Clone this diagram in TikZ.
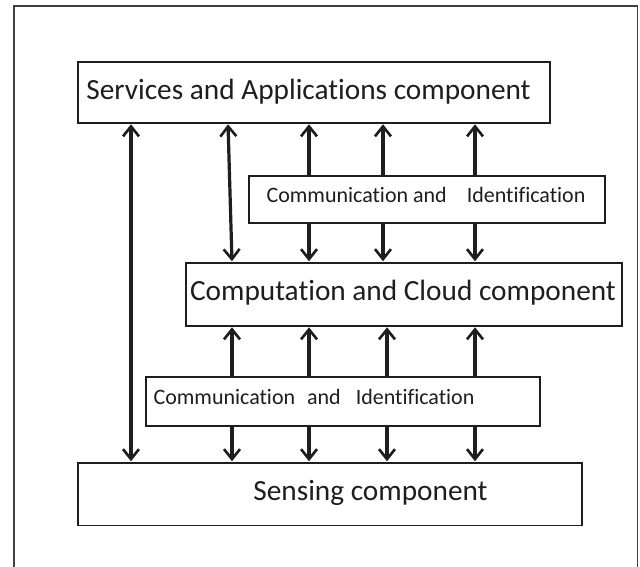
\documentclass[tikz,border=0pt]{standalone}
\usepackage{fontspec}
\setmainfont{Carlito}[Ligatures={NoCommon,NoContextual,NoRequired},RawFeature={-liga;-clig;-calt;-rlig;-dlig}]
\usetikzlibrary{arrows.meta}
\definecolor{ink}{HTML}{1E1E1E}
\newcommand{\nl}{\kern0pt }
\tikzset{
  box/.style={draw=ink, line width=1.5pt, fill=white, rectangle, inner sep=0pt, anchor=north west},
  bigtxt/.style={font=\fontsize{29.3}{29}\selectfont, text=ink, inner sep=0pt, anchor=base},
  smalltxt/.style={font=\fontsize{22}{22}\selectfont, text=ink, inner sep=0pt, anchor=base},
  tip/.tip={Straight Barb[length=10pt,width=16pt,line width=2.6pt]},
  link/.style={draw=ink, line width=3.2pt, tip-tip, shorten <=0.8pt, shorten >=0.8pt},
  uplink/.style={draw=ink, line width=3.2pt, -tip, shorten >=0.8pt},
}
\begin{document}
\begin{tikzpicture}[x=1pt,y=-1pt]
\useasboundingbox (0,0) rectangle (640,566);
\clip (0,0) rectangle (640,566);
\fill[white] (0,0) rectangle (640,566);
\draw[draw=ink!85, line width=1.6pt] (14,6) rectangle (637.5,600);

% boxes
\node[box, minimum width=472pt, minimum height=61pt] (sa) at (77,61) {};
\node[box, minimum width=356pt, minimum height=47pt] (ci1) at (248,175) {};
\node[box, minimum width=436pt, minimum height=63pt] (comp) at (185,262) {};
\node[box, minimum width=394pt, minimum height=49pt] (ci2) at (145,376) {};
\node[box, minimum width=504pt, minimum height=62.5pt] (sens) at (77,462) {};

% texts
\node[bigtxt] (saT) at (308.5,99) {Services and Applicat\nl ions component};
\node[smalltxt] (ci1T) at (426,202) {Communicat\nl ion and\hspace{20pt}Ident\nl if\nl icat\nl ion};
\node[bigtxt] (compT) at (403,300) {Computat\nl ion and Cloud component};
\node[smalltxt] (ci2T) at (314,404) {Communicat\nl ion\hspace{12pt}and\hspace{15pt}Ident\nl if\nl icat\nl ion};
\node[bigtxt] (sensT) at (370.5,500) {Sensing component};

% long arrows
\draw[link] (131,0 |- sa.south) -- (131,0 |- sens.north);
\draw[link] (228,0 |- sa.south) -- (232,0 |- comp.north);

% between SA and CI1 (up), CI1 and Comp (down)
\foreach \xx in {309,383,475}{
  \draw[uplink] (\xx,0 |- ci1.north) -- (\xx,0 |- sa.south);
  \draw[uplink] (\xx,0 |- ci1.south) -- (\xx,0 |- comp.north);
}
% between Comp and CI2 (up), CI2 and Sensing (down)
\foreach \xx in {232,309,387,475}{
  \draw[uplink] (\xx,0 |- ci2.north) -- (\xx,0 |- comp.south);
  \draw[uplink] (\xx,0 |- ci2.south) -- (\xx,0 |- sens.north);
}
\end{tikzpicture}
\end{document}
